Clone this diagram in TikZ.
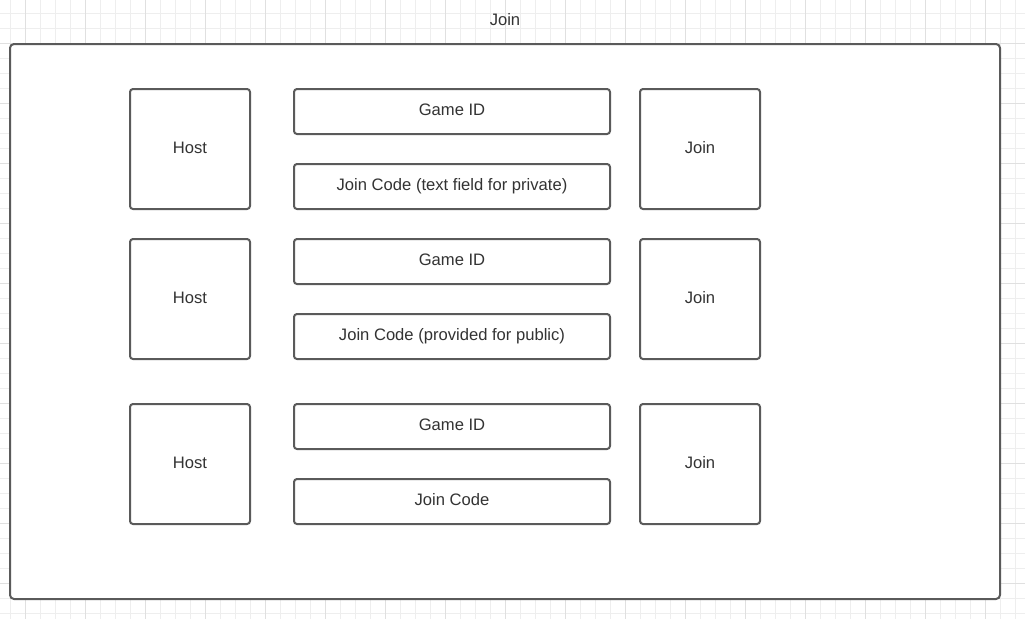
\documentclass[tikz,border=0pt]{standalone}
\usepackage{fontspec}
\setmainfont{Liberation Sans}
\usetikzlibrary{positioning}
\definecolor{edgegray}{HTML}{5A5A5A}
\definecolor{textgray}{HTML}{333333}
\definecolor{gridlight}{HTML}{EEEEEE}
\definecolor{griddark}{HTML}{E0E0E0}

\tikzset{
  box/.style={draw=edgegray, line width=2pt, rounded corners=3pt, fill=white,
    text=textgray, font=\fontsize{16.6}{19}\selectfont, inner sep=0pt, outer sep=0pt,
    text height=12pt, text depth=4pt},
  square/.style={box, minimum width=120pt, minimum height=120pt},
  field/.style={box, minimum width=316pt, minimum height=45pt},
}

\begin{document}
\begin{tikzpicture}[x=1pt, y=-1pt]

% background and grid
\fill[white] (0,0) rectangle (1025,619);
\useasboundingbox (0,0) rectangle (1025,619);
\foreach \x in {10,25,...,1015} \draw[gridlight, line width=1pt] (\x,0) -- (\x,619);
\foreach \y in {13,28,...,613} \draw[gridlight, line width=1pt] (0,\y) -- (1025,\y);
\foreach \x in {25,85,...,1000} \draw[griddark, line width=1pt] (\x,0) -- (\x,619);
\foreach \y in {43,103,...,613} \draw[griddark, line width=1pt] (0,\y) -- (1025,\y);

% frame
\node[box, rounded corners=4pt, minimum width=990pt, minimum height=555pt] (frame) at (505,321.5) {};
\node[text=textgray, font=\fontsize{16.6}{19}\selectfont] (title) at (505,20) {Join};

% first row
\node[square] (host1) at (190,149) {Host};
\node[field, right=44pt of host1.north east, anchor=north west] (gameid1) {Game ID};
\node[field, below=30pt of gameid1] (code1) {Join Code (text field for private)};
\node[square, right=30pt of gameid1.north east, anchor=north west] (join1) {Join};

% second row
\node[square] (host2) at (190,299) {Host};
\node[field, right=44pt of host2.north east, anchor=north west] (gameid2) {Game ID};
\node[field, below=30pt of gameid2] (code2) {Join Code (provided for public)};
\node[square, right=30pt of gameid2.north east, anchor=north west] (join2) {Join};

% third row
\node[square] (host3) at (190,464) {Host};
\node[field, right=44pt of host3.north east, anchor=north west] (gameid3) {Game ID};
\node[field, below=30pt of gameid3] (code3) {Join Code};
\node[square, right=30pt of gameid3.north east, anchor=north west] (join3) {Join};

\end{tikzpicture}
\end{document}
